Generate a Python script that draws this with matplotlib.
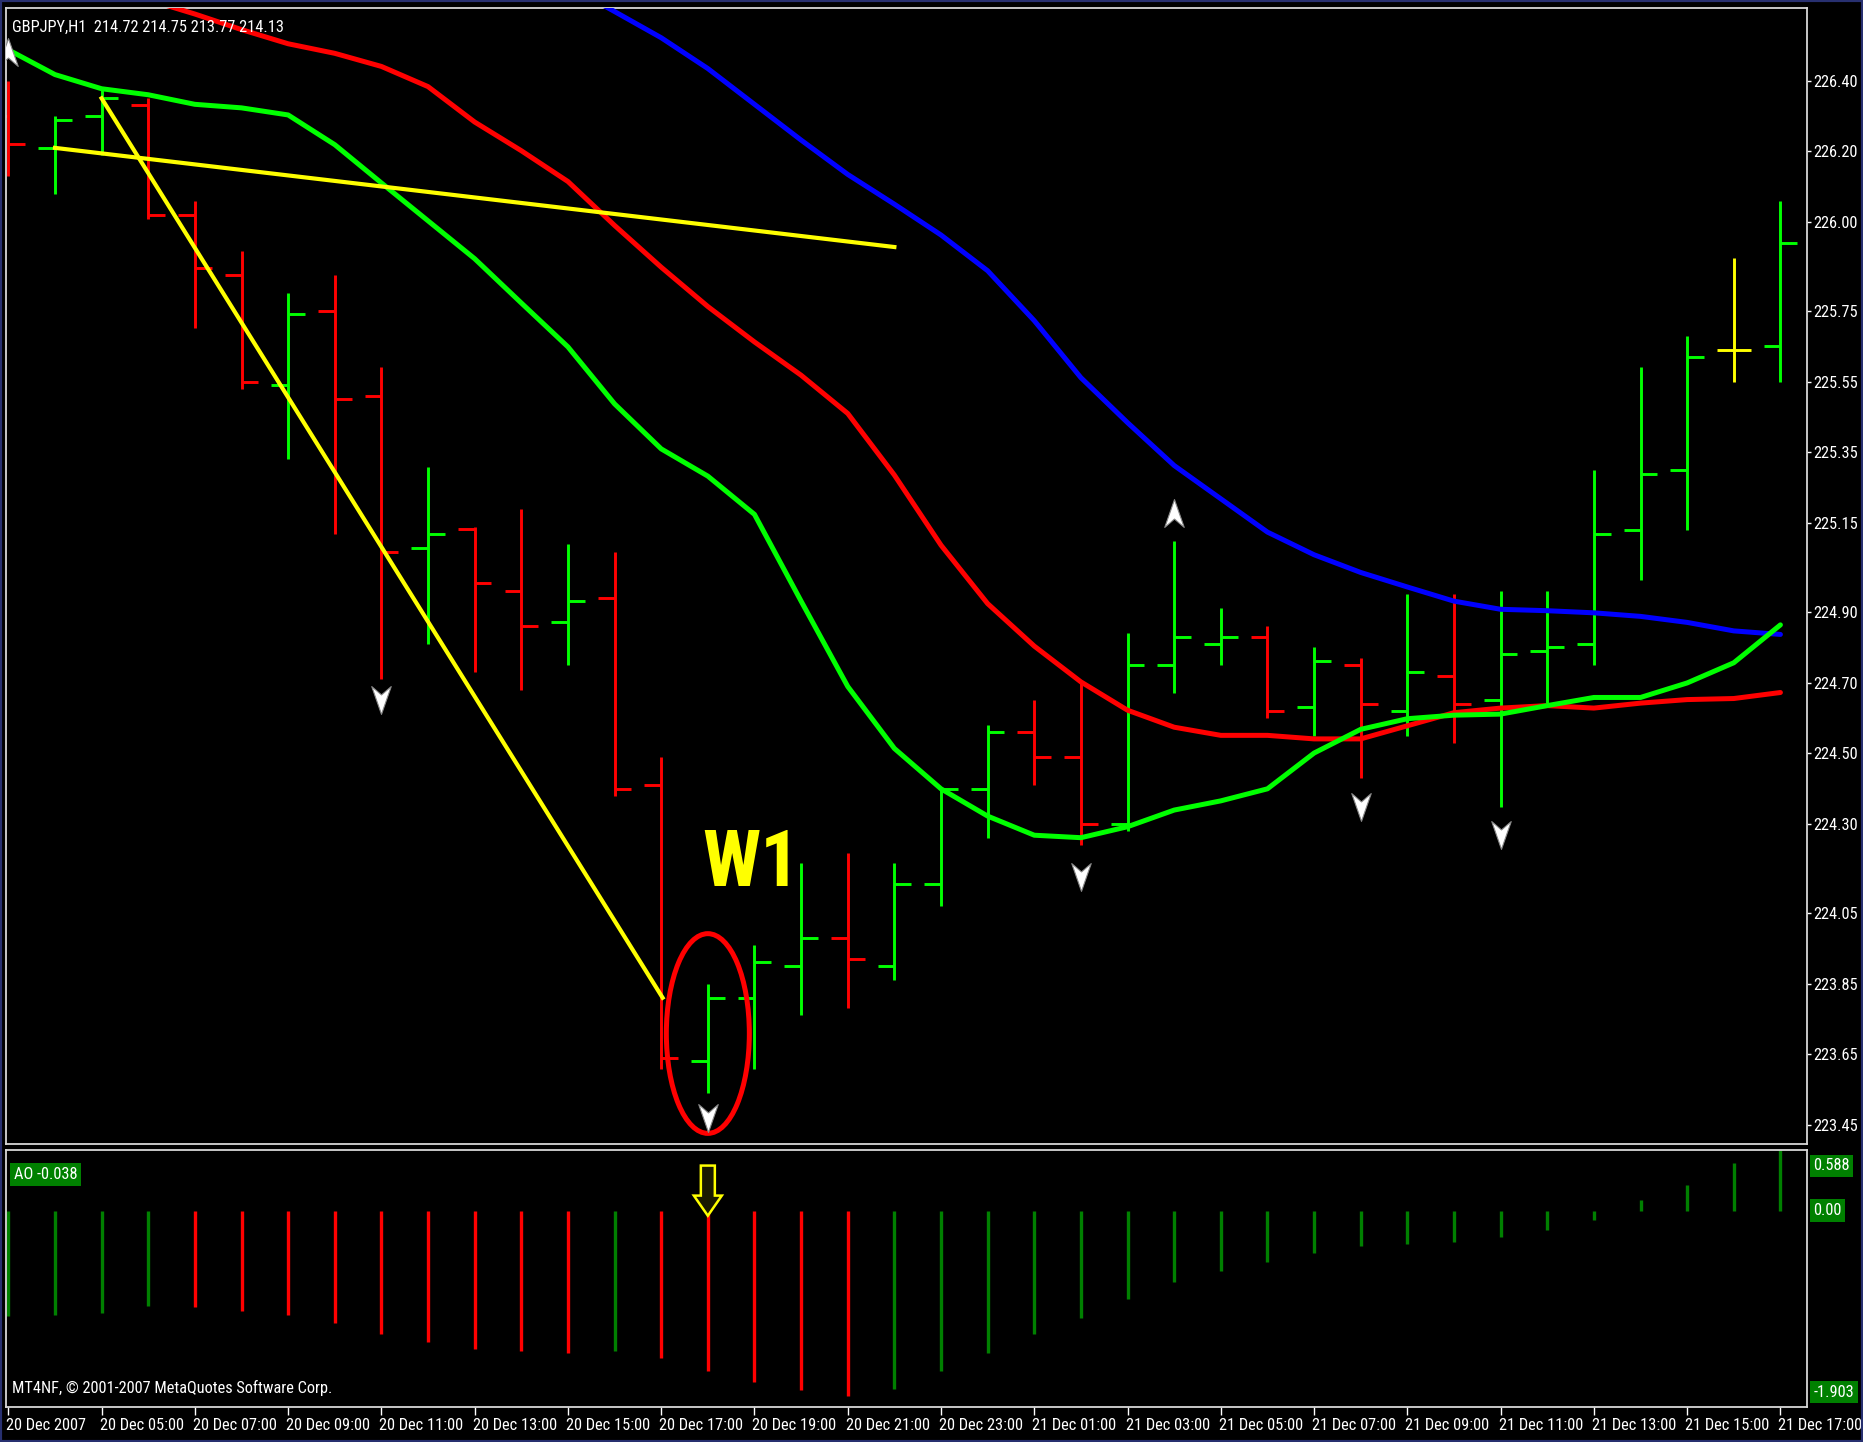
import matplotlib
matplotlib.use("Agg")
import matplotlib.pyplot as plt
import numpy as np
from matplotlib import font_manager
from matplotlib.patches import Ellipse, Polygon, Rectangle
from matplotlib.path import Path
import matplotlib.transforms as mtransforms

# ---------------- data ----------------
x_tick_labels = ["20 Dec 2007", "20 Dec 05:00", "20 Dec 07:00", "20 Dec 09:00",
                 "20 Dec 11:00", "20 Dec 13:00", "20 Dec 15:00", "20 Dec 17:00",
                 "20 Dec 19:00", "20 Dec 21:00", "20 Dec 23:00", "21 Dec 01:00",
                 "21 Dec 03:00", "21 Dec 05:00", "21 Dec 07:00", "21 Dec 09:00",
                 "21 Dec 11:00", "21 Dec 13:00", "21 Dec 15:00", "21 Dec 17:00"]

price_ticks = [226.40, 226.20, 226.00, 225.75, 225.55, 225.35, 225.15, 224.90,
               224.70, 224.50, 224.30, 224.05, 223.85, 223.65, 223.45]

open_ = [226.30, 226.21, 226.30, 226.33, 226.02, 225.85, 225.54, 225.75, 225.51, 225.08,
         225.135, 224.96, 224.87, 224.94, 224.41, 223.63, 223.81, 223.90, 223.98, 223.90,
         224.13, 224.40, 224.56, 224.49, 224.30, 224.75, 224.81, 224.83, 224.63, 224.75,
         224.62, 224.72, 224.65, 224.79, 224.81, 225.13, 225.30, 225.64, 225.65]
high = [226.40, 226.30, 226.38, 226.35, 226.06, 225.92, 225.80, 225.85, 225.59, 225.31,
        225.14, 225.19, 225.09, 225.07, 224.49, 223.85, 223.96, 224.19, 224.22, 224.19,
        224.40, 224.58, 224.65, 224.70, 224.84, 225.10, 224.91, 224.86, 224.80, 224.77,
        224.95, 224.95, 224.96, 224.96, 225.30, 225.59, 225.68, 225.90, 226.06]
low = [226.13, 226.08, 226.19, 226.01, 225.70, 225.53, 225.33, 225.12, 224.71, 224.81,
       224.73, 224.68, 224.75, 224.38, 223.61, 223.54, 223.61, 223.76, 223.78, 223.86,
       224.07, 224.26, 224.41, 224.24, 224.28, 224.67, 224.75, 224.60, 224.55, 224.43,
       224.55, 224.53, 224.35, 224.64, 224.75, 224.99, 225.13, 225.55, 225.55]
close = [226.22, 226.29, 226.35, 226.02, 225.87, 225.55, 225.74, 225.50, 225.07, 225.12,
         224.98, 224.86, 224.93, 224.40, 223.64, 223.81, 223.91, 223.98, 223.92, 224.13,
         224.40, 224.56, 224.49, 224.30, 224.75, 224.83, 224.83, 224.62, 224.76, 224.64,
         224.73, 224.64, 224.78, 224.80, 225.12, 225.29, 225.62, 225.64, 225.94]

nan = float("nan")
lips_green = [226.487, 226.417, 226.377, 226.360, 226.333, 226.323, 226.303, 226.219, 226.111, 226.004,
              225.897, 225.772, 225.648, 225.487, 225.360, 225.283, 225.175, 224.930, 224.689, 224.514,
              224.400, 224.323, 224.269, 224.262, 224.293, 224.340, 224.366, 224.400, 224.501, 224.568,
              224.598, 224.608, 224.611, 224.635, 224.658, 224.658, 224.699, 224.756, 224.863]
teeth_red = [nan, nan, 226.668, 226.628, 226.588, 226.544, 226.504, 226.477, 226.440, 226.383,
             226.283, 226.202, 226.115, 225.991, 225.873, 225.762, 225.662, 225.568, 225.460, 225.286,
             225.088, 224.923, 224.803, 224.702, 224.622, 224.574, 224.551, 224.551, 224.541, 224.541,
             224.578, 224.615, 224.628, 224.635, 224.628, 224.642, 224.652, 224.655, 224.672]
jaw_blue = [nan, nan, nan, nan, nan, nan, nan, nan, nan, nan,
            nan, 226.729, 226.668, 226.595, 226.521, 226.434, 226.333, 226.232, 226.135, 226.051,
            225.964, 225.863, 225.722, 225.561, 225.434, 225.313, 225.219, 225.125, 225.061, 225.011,
            224.970, 224.930, 224.907, 224.903, 224.897, 224.887, 224.870, 224.846, 224.836]

trend1_x = [1, 19]
trend1_y = [226.21, 225.93]
trend2_x = [2, 14.03]
trend2_y = [226.35, 223.81]

frac_down_idx = [8, 15, 23, 29, 32]
frac_down_y = [224.65, 223.47, 224.15, 224.35, 224.27]
frac_up_idx = [0, 25]
frac_up_y = [226.48, 225.18]

ao_values = [-1.02, -1.01, -0.99, -0.92, -0.93, -0.97, -1.01, -1.09, -1.20, -1.27,
             -1.34, -1.36, -1.38, -1.36, -1.43, -1.55, -1.66, -1.74, -1.80, -1.73,
             -1.55, -1.38, -1.20, -1.04, -0.86, -0.69, -0.58, -0.50, -0.41, -0.34,
             -0.32, -0.30, -0.26, -0.19, -0.09, 0.10, 0.25, 0.46, 0.59]

# ---------------- fonts ----------------
names = {f.name for f in font_manager.fontManager.ttflist}
condensed = [c for c in ["Liberation Sans Narrow", "DejaVu Sans Condensed",
                         "Roboto Condensed", "Open Sans Condensed"] if c in names]
if condensed:
    base_font, fs, w1_fs, stretch = condensed[0], 11.8, 56, "normal"
else:
    base_font, fs, w1_fs, stretch = "DejaVu Sans", 9.2, 44, "condensed"
plt.rcParams["font.family"] = [base_font, "DejaVu Sans"]
plt.rcParams["font.stretch"] = stretch

# ---------------- figure ----------------
W, H = 1863, 1442
fig = plt.figure(figsize=(W / 100, H / 100), dpi=100, facecolor="black")
ax = fig.add_axes([6 / W, 1 - 1144 / H, 1801 / W, 1136 / H], facecolor="black")
ax2 = fig.add_axes([6 / W, 1 - 1407 / H, 1801 / W, 257 / H], facecolor="black")

for a in (ax, ax2):
    for s in a.spines.values():
        s.set_color("#D8D8D8")
        s.set_linewidth(1.3)
    a.set_xlim(-0.05, 38.57)

n = len(open_)
x = np.arange(n)
op = np.array(open_)
cl = np.array(close)
bar_colors = ["#00FF00" if c > o else ("#FF0000" if c < o else "#FFFF00") for o, c in zip(op, cl)]

ax.vlines(x, low, high, colors=bar_colors, lw=2.1, zorder=2)
ax.hlines(op, x - 0.36, x, colors=bar_colors, lw=2.1, zorder=2)
ax.hlines(cl, x, x + 0.36, colors=bar_colors, lw=2.1, zorder=2)

ax.plot(x, jaw_blue, color="#0000FF", lw=3.6, zorder=3, solid_capstyle="round",
        solid_joinstyle="round")
ax.plot(x, teeth_red, color="#FF0000", lw=3.6, zorder=3, solid_capstyle="round",
        solid_joinstyle="round")
ax.plot(x, lips_green, color="#00FF00", lw=3.6, zorder=3, solid_capstyle="round",
        solid_joinstyle="round")

ax.plot(trend1_x, trend1_y, color="#FFFF00", lw=3.0, zorder=4)
ax.plot(trend2_x, trend2_y, color="#FFFF00", lw=3.0, zorder=4)

codes = [Path.MOVETO, Path.LINETO, Path.LINETO, Path.LINETO, Path.CLOSEPOLY]
down_marker = Path([(0, -1), (0.7, 1), (0, 0.4), (-0.7, 1), (0, -1)], codes)
up_marker = Path([(0, 1), (0.7, -1), (0, -0.4), (-0.7, -1), (0, 1)], codes)
ax.plot(frac_down_idx, frac_down_y, ls="none", marker=down_marker, ms=20,
        mfc="white", mec="#8a8a8a", mew=0.8, zorder=6)
ax.plot(frac_up_idx, frac_up_y, ls="none", marker=up_marker, ms=20,
        mfc="white", mec="#8a8a8a", mew=0.8, zorder=6)

ax.add_patch(Ellipse((15.0, 223.709), 1.78, 0.564, fill=False, edgecolor="#FF0000",
                     lw=3.6, zorder=5))
ax.text(15.92, 224.185, "W1", color="#FFFF00", ha="center", va="center",
        fontsize=w1_fs, fontweight="heavy", zorder=7)

ax.set_ylim(223.397, 226.605)
ax.set_xticks([])
ax.yaxis.tick_right()
ax.set_yticks(price_ticks)
ax.set_yticklabels([f"{v:.2f}" for v in price_ticks])
ax.tick_params(axis="y", colors="white", length=3, width=1, pad=1.5,
               labelsize=fs, direction="out")

ax.text(0.0035, 0.983, "GBPJPY,H1  214.72 214.75 213.77 214.13", transform=ax.transAxes,
        color="white", fontsize=fs, ha="left", va="center", zorder=8)

# ---------------- AO panel ----------------
ao = np.array(ao_values)
ao_colors = ["#008000"] + ["#008000" if ao[i] > ao[i - 1] else "#FF0000" for i in range(1, n)]
ax2.vlines(x, 0, ao, colors=ao_colors, lw=2.4, zorder=2)
ax2.set_ylim(-1.903, 0.588)
ax2.set_yticks([])

arrow_shape = [(-0.15, 0.437), (0.15, 0.437), (0.15, 0.146), (0.30, 0.146), (0.0, -0.049),
               (-0.30, 0.146), (-0.15, 0.146)]
ax2.add_patch(Polygon([(15 + px, py) for px, py in arrow_shape], closed=True,
                      facecolor="#1a1a00", edgecolor="#FFFF00", lw=1.8, zorder=4))

ax2.set_xticks(range(0, n, 2))
ax2.set_xticklabels(x_tick_labels)
ax2.tick_params(axis="x", colors="white", length=6, width=1, pad=2, labelsize=fs,
                direction="out")
offset = mtransforms.ScaledTranslation(-2 / 100, 0, fig.dpi_scale_trans)
for lab in ax2.get_xticklabels():
    lab.set_horizontalalignment("left")
    lab.set_transform(lab.get_transform() + offset)

box = dict(boxstyle="square,pad=0.22", fc="#008000", ec="none")
ax2.text(0.0045, 0.905, "AO -0.038", transform=ax2.transAxes, color="white",
         fontsize=fs, ha="left", va="center", bbox=box, zorder=8)
ax2.text(0.0035, 0.074, "MT4NF, \u00a9 2001-2007 MetaQuotes Software Corp.",
         transform=ax2.transAxes, color="white", fontsize=fs, ha="left", va="center", zorder=8)
for yy, txt in [(0.938, "0.588"), (0.765, "0.00"), (0.058, "-1.903")]:
    ax2.text(1.0035, yy, txt, transform=ax2.transAxes, color="white", fontsize=fs,
             ha="left", va="center", bbox=box, clip_on=False)

fig.patches.append(Rectangle((0, 0), 1, 1, transform=fig.transFigure, fill=False,
                             edgecolor="#283070", lw=3, zorder=100))

fig.savefig("out.png", dpi=100, facecolor="black")
